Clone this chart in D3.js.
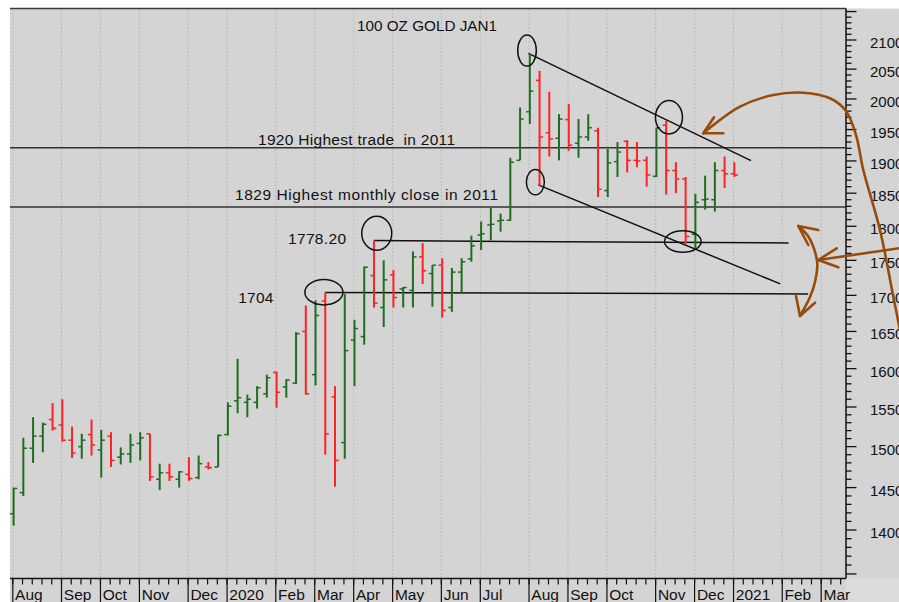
<!DOCTYPE html>
<html><head><meta charset="utf-8">
<script src="https://cdn.jsdelivr.net/npm/d3@7"></script>
<style>
body{margin:0;background:#fff}
svg{display:block}
text{font-family:"Liberation Sans",Arial,sans-serif;fill:#111}
</style>
</head><body>
<svg id="chart" width="899" height="602"></svg>
<script>
// ---------------- data (weekly bars, week ending Friday) ----------------
const firstWeek = "2019-08-02";
const opens  = [1419,1444,1498,1513,1534,1527,1508,1500,1515,1496,1513,1487,1491,1504,1516,1460,1468,1460,1466,1462,1475,1475,1515,1558,1556,1556,1567,1595,1576,1581,1650,1592,1692,1563,1505,1638,1643,1728,1683,1729,1709,1707,1755,1731,1743,1683,1733,1752,1787,1802,1808,1809,1901,1979,2031,1945,1936,1966,1928,1938,1948,1854,1899,1931,1901,1901,1876,1957,1885,1872,1788,1840,1840,1885,1880];
const highs  = [1450,1511,1537,1530,1555,1560,1525,1516,1534,1521,1518,1499,1516,1518,1516,1479,1479,1470,1487,1489,1481,1515,1556,1613,1566,1577,1592,1596,1586,1649,1686,1693,1704,1577,1702,1666,1741,1779,1750,1736,1712,1763,1775,1743,1753,1739,1753,1786,1807,1829,1819,1905,1986,2076,2047,2012,1975,1992,1967,1975,1953,1919,1930,1933,1930,1907,1953,1964,1898,1875,1849,1877,1898,1907,1898];
const lows   = [1405,1440,1480,1493,1520,1506,1486,1485,1489,1462,1475,1478,1480,1483,1458,1447,1458,1450,1458,1460,1472,1475,1514,1542,1537,1548,1562,1549,1562,1580,1566,1578,1490,1451,1485,1577,1632,1683,1656,1683,1683,1683,1716,1684,1669,1677,1702,1748,1765,1779,1792,1808,1901,1959,1861,1907,1901,1916,1905,1932,1844,1844,1875,1882,1890,1860,1875,1848,1850,1774,1767,1825,1822,1858,1875];
const closes = [1449,1498,1513,1528,1523,1508,1492,1508,1502,1508,1483,1491,1502,1511,1463,1468,1463,1469,1461,1479,1474,1514,1551,1562,1560,1575,1588,1569,1585,1647,1567,1672,1516,1483,1624,1654,1740,1689,1722,1697,1711,1755,1735,1743,1679,1733,1748,1771,1789,1803,1809,1898,1967,2013,1938,1935,1967,1925,1938,1953,1856,1897,1914,1901,1900,1878,1953,1885,1872,1785,1836,1841,1885,1880,1878];

const monthNames = ["Aug","Sep","Oct","Nov","Dec","2020","Feb","Mar","Apr","May","Jun","Jul","Aug","Sep","Oct","Nov","Dec","2021","Feb","Mar"];
const yLabelValues = [1400,1450,1500,1550,1600,1650,1700,1750,1800,1850,1900,1950,2000,2050,2100];

// reference levels and hand drawn annotations (week index, price)
const levelPrices = [1921, 1829];
const levelLines = [            // [startIndex, startPrice, endIndex, endPrice]
  [37.0, 1778.8, 79.7, 1775.3],
  [32.0, 1704.0, 81.6, 1702.0]
];
const trendLines = [
  [52.95, 2077, 75.78, 1900.6],
  [53.97, 1862.7, 78.76, 1716.3]
];
const circles = [               // [index, price]
  [37.35, 1789.8], [31.87, 1704.4], [52.78, 2081.7],
  [53.71, 1867], [67.29, 1970], [68.76, 1777.5]
];
const circleSizes = [[15,17],[19,12.7],[9.3,15.5],[9,12.7],[13.5,16.7],[18.3,10.7]];
const titleText = "100 OZ GOLD JAN1";
const notes = [
  {t:"1920 Highest trade  in 2011", x:258, y:145, w:197},
  {t:"1829 Highest monthly close in 2011", x:235, y:200, w:263},
  {t:"1778.20", x:288, y:244.3, w:58},
  {t:"1704", x:238.3, y:302.7, w:35}
];

// ---------------- layout ----------------
const svg = d3.select("#chart");
const W = 899, H = 602;
const plotL = 10, plotT = 8.5, plotR = 846, plotB = 578.5;

const parse = d3.utcParse("%Y-%m-%d");
const t0 = parse(firstWeek);
const weekDate = i => d3.utcDay.offset(t0, 7 * i);
const x = d3.scaleUtc().domain([t0, parse("2021-03-05")]).range([13.6, 822]);
const xi = i => x(weekDate(i));
const y = d3.scaleLog().domain([1400, 2100]).range([530, 40]);

// backgrounds
svg.append("rect").attr("width", W).attr("height", H).attr("fill", "#fff");
svg.append("rect").attr("x", plotL).attr("y", plotT).attr("width", W - plotL).attr("height", H - plotT).attr("fill", "#d4d4d4");
svg.append("rect").attr("x", plotR).attr("y", plotB).attr("width", W - plotR).attr("height", H - plotB).attr("fill", "#dcdcdc");

// weeks covering the axis
const allWeeks = d3.range(0, 87).map(weekDate).filter(d => x(d) < plotR);
const monthFirst = allWeeks.filter((d, i) => i === 0 || d.getUTCMonth() !== allWeeks[i - 1].getUTCMonth());

// vertical dotted gridlines
svg.append("g").selectAll("line").data(monthFirst).join("line")
  .attr("x1", d => x(d) - 0.8).attr("x2", d => x(d) - 0.8)
  .attr("y1", plotT + 1).attr("y2", plotB)
  .attr("stroke", "#b4b4b4").attr("stroke-width", 1).attr("stroke-dasharray", "1.5,2");

// frame
svg.append("line").attr("x1", plotL).attr("x2", plotR).attr("y1", plotT).attr("y2", plotT).attr("stroke", "#3a3a3a").attr("stroke-width", 1.5);
svg.append("line").attr("x1", plotL).attr("x2", plotR).attr("y1", plotB).attr("y2", plotB).attr("stroke", "#111").attr("stroke-width", 1.5);
svg.append("line").attr("x1", plotR).attr("x2", plotR).attr("y1", plotT).attr("y2", plotB).attr("stroke", "#111").attr("stroke-width", 1.5);

// bottom axis ticks
svg.append("g").selectAll("line").data(allWeeks).join("line")
  .attr("x1", d => x(d) - 0.8).attr("x2", d => x(d) - 0.8)
  .attr("y1", plotB).attr("y2", plotB + 6).attr("stroke", "#111").attr("stroke-width", 1.2);
svg.append("g").selectAll("line").data(monthFirst).join("line")
  .attr("x1", d => x(d) - 0.8).attr("x2", d => x(d) - 0.8)
  .attr("y1", plotB).attr("y2", H).attr("stroke", "#111").attr("stroke-width", 1.2);
svg.append("g").selectAll("text").data(monthFirst).join("text")
  .attr("x", d => x(d) + 1.5).attr("y", 600)
  .attr("font-size", 15.5).text((d, i) => monthNames[i]);

// right axis ticks
const minorTicks = d3.range(1350, 2151, 10);
svg.append("g").selectAll("line").data(minorTicks).join("line")
  .attr("x1", plotR).attr("x2", d => plotR + (d % 50 === 0 ? 10.5 : 5.5))
  .attr("y1", d => y(d)).attr("y2", d => y(d))
  .attr("stroke", "#111").attr("stroke-width", 1.3);
svg.append("g").selectAll("text").data(yLabelValues).join("text")
  .attr("x", 870).attr("y", d => y(d) + 8)
  .attr("font-size", 15).text(d => d);

// reference horizontal levels
svg.append("g").selectAll("line").data(levelPrices).join("line")
  .attr("x1", plotL).attr("x2", plotR).attr("y1", d => y(d)).attr("y2", d => y(d))
  .attr("stroke", "#333").attr("stroke-width", 1.5);

// annotation lines
svg.append("g").selectAll("line").data(levelLines.concat(trendLines)).join("line")
  .attr("x1", d => xi(d[0])).attr("y1", d => y(d[1]))
  .attr("x2", d => xi(d[2])).attr("y2", d => y(d[3]))
  .attr("stroke", "#111").attr("stroke-width", 1.5);

// OHLC bars
const bars = opens.map((o, i) => ({i, o, h: highs[i], l: lows[i], c: closes[i]}));
const gB = svg.append("g");
const col = d => d.c >= d.o ? "#1f6d1f" : "#ff2222";
gB.selectAll("line.hl").data(bars).join("line").attr("class", "hl")
  .attr("x1", d => xi(d.i)).attr("x2", d => xi(d.i))
  .attr("y1", d => y(d.h)).attr("y2", d => y(d.l))
  .attr("stroke", col).attr("stroke-width", 2);
gB.selectAll("line.op").data(bars).join("line").attr("class", "op")
  .attr("x1", d => xi(d.i) - 3.6).attr("x2", d => xi(d.i))
  .attr("y1", d => y(d.o)).attr("y2", d => y(d.o))
  .attr("stroke", col).attr("stroke-width", 1.5);
gB.selectAll("line.cl").data(bars).join("line").attr("class", "cl")
  .attr("x1", d => xi(d.i)).attr("x2", d => xi(d.i) + 3.6)
  .attr("y1", d => y(d.c)).attr("y2", d => y(d.c))
  .attr("stroke", col).attr("stroke-width", 1.5);

// ellipses
svg.append("g").selectAll("ellipse").data(circles).join("ellipse")
  .attr("cx", d => xi(d[0])).attr("cy", d => y(d[1]))
  .attr("rx", (d, i) => circleSizes[i][0]).attr("ry", (d, i) => circleSizes[i][1])
  .attr("fill", "none").attr("stroke", "#111").attr("stroke-width", 1.5);

// texts
svg.append("text").attr("x", 357).attr("y", 31).attr("font-size", 15.5)
  .attr("textLength", 140).attr("lengthAdjust", "spacingAndGlyphs").text(titleText);
svg.append("g").selectAll("text").data(notes).join("text")
  .attr("x", d => d.x).attr("y", d => d.y).attr("font-size", 15.5)
  .style("white-space", "pre")
  .attr("textLength", d => d.w).attr("lengthAdjust", "spacing").text(d => d.t);

// brown hand-drawn arrows
const brown = "#974c0c";
const curve = d3.line().curve(d3.curveCatmullRom.alpha(0.5));
const gA = svg.append("g").attr("fill", "none").attr("stroke", brown).attr("stroke-width", 2.6).attr("stroke-linecap", "round").attr("stroke-linejoin", "round");
gA.append("path").attr("d", curve([[703.3,133.3],[740,106.7],[773.3,95],[803.3,92.7],[830,98.3],[846,111],[856,135],[863.3,170],[880,230],[893.3,296.7],[901,335]]));
gA.append("path").attr("d", "M714,117.3 L703.3,133.3 L723.3,133.3");
gA.append("path").attr("d", "M901,248 L818.3,260");
gA.append("path").attr("d", "M836.7,248.3 L818.3,260 L838.3,267.3");
gA.append("path").attr("d", curve([[798.3,226],[808,236],[813.3,246.7],[817.3,263.3],[815,282],[810,297],[800,316]]));
gA.append("path").attr("d", "M818.3,230 L798.3,226 L808.3,245");
gA.append("path").attr("d", "M796,296 L800,316 L815,302.7");
</script>
</body></html>
